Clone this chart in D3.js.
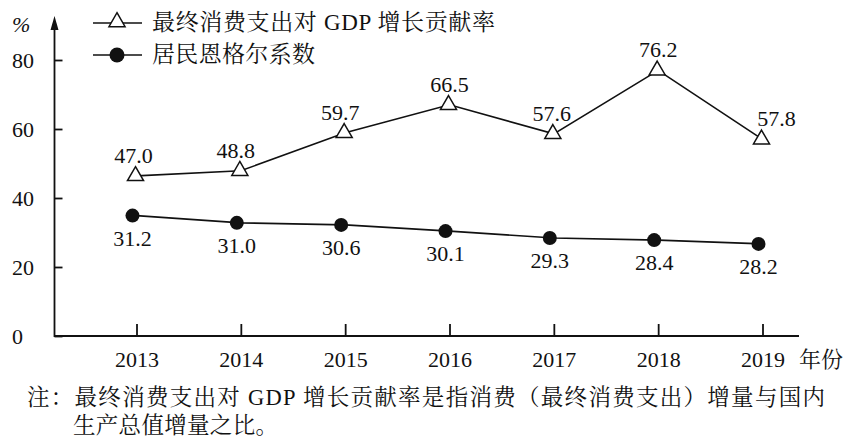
<!DOCTYPE html>
<html>
<head>
<meta charset="utf-8">
<script src="https://cdn.jsdelivr.net/npm/d3@7"></script>
<style>
  html, body { margin: 0; padding: 0; background: #fff; }
  svg { display: block; }
</style>
</head>
<body>
<svg id="chart" width="845" height="437"></svg>
<script>
// ---- data ----
const years = [2013, 2014, 2015, 2016, 2017, 2018, 2019];
// marker positions as drawn in the picture
const gdpContribution = [46.4, 47.9, 58.9, 67.0, 58.6, 77.0, 57.0];
const gdpLabels = ["47.0", "48.8", "59.7", "66.5", "57.6", "76.2", "57.8"];
const engelCoefficient = [34.9, 32.8, 32.2, 30.4, 28.4, 27.8, 26.7];
const engelLabels = ["31.2", "31.0", "30.6", "30.1", "29.3", "28.4", "28.2"];
const yTicks = [0, 20, 40, 60, 80];
const legendNames = ["最终消费支出对 GDP 增长贡献率", "居民恩格尔系数"];
const yUnit = "%";
const xUnit = "年份";
const noteLines = ["注：最终消费支出对 GDP 增长贡献率是指消费（最终消费支出）增量与国内", "生产总值增量之比。"];

// ---- layout ----
const NUMFONT = "Liberation Serif";
const MIXFONT = "Liberation Serif, Noto Serif CJK SC";
const INK = "#111";
const svg = d3.select("#chart");
const axisX0 = 54.5, axisX1 = 799, axisY = 336;

const x = d3.scalePoint().domain(years).range([136.5, 762.5]);
const y = d3.scaleLinear().domain([0, 80]).range([axisY, 60]);

function numText(sel) {
  return sel.attr("font-family", NUMFONT).style("font-family", NUMFONT)
    .attr("font-size", 22).style("font-size", "22px").attr("fill", INK);
}

// y axis with ticks pointing inward
const yAxis = d3.axisLeft(y).tickValues(yTicks).tickSize(-8).tickFormat(d3.format("d"));
const gy = svg.append("g").attr("transform", `translate(${axisX0},0)`).call(yAxis)
  .attr("font-family", NUMFONT).attr("font-size", 22);
gy.select(".domain").remove();
gy.selectAll(".tick line").attr("stroke", INK).attr("stroke-width", 1.8);
numText(gy.selectAll(".tick text"))
  .attr("x", 12 - axisX0).attr("text-anchor", "start").attr("dy", "0.34em");

// x axis with upward ticks
const xAxis = d3.axisBottom(x).tickSize(-12).tickPadding(15);
const gx = svg.append("g").attr("transform", `translate(0,${axisY})`).call(xAxis)
  .attr("font-family", NUMFONT).attr("font-size", 22);
gx.select(".domain").remove();
gx.selectAll(".tick line").attr("stroke", INK).attr("stroke-width", 1.8);
numText(gx.selectAll(".tick text")).attr("dy", "0.71em");

// axis lines
svg.append("line").attr("x1", axisX0).attr("x2", axisX0).attr("y1", 26).attr("y2", axisY + 1)
  .attr("stroke", INK).attr("stroke-width", 1.8);
svg.append("line").attr("x1", axisX0).attr("x2", axisX1).attr("y1", axisY).attr("y2", axisY)
  .attr("stroke", INK).attr("stroke-width", 1.8);
// arrow head
svg.append("path").attr("d", `M${axisX0},16 L${axisX0 - 4},30 L${axisX0 + 4},30 Z`).attr("fill", INK);

// units
numText(svg.append("text").attr("x", 12).attr("y", 32).text(yUnit)).style("font-style", "italic");
svg.append("text").attr("x", 799).attr("y", 367).text(xUnit)
  .attr("font-family", MIXFONT).style("font-family", MIXFONT).style("font-size", "22px").attr("fill", INK);

// lines
const line = d3.line().x((d, i) => x(years[i])).y(d => y(d));
svg.append("path").datum(engelCoefficient).attr("d", line)
  .attr("fill", "none").attr("stroke", INK).attr("stroke-width", 1.6);
svg.append("path").datum(gdpContribution).attr("d", line)
  .attr("fill", "none").attr("stroke", INK).attr("stroke-width", 1.6);

// markers
const tri = d3.symbol().type(d3.symbolTriangle).size(112);
svg.selectAll(".tri").data(gdpContribution).join("path")
  .attr("transform", (d, i) => `translate(${x(years[i]) - 1},${y(d)})`)
  .attr("d", tri).attr("fill", "#fff").attr("stroke", INK).attr("stroke-width", 1.5);
svg.selectAll(".dot").data(engelCoefficient).join("circle")
  .attr("cx", (d, i) => x(years[i]) - 4).attr("cy", d => y(d)).attr("r", 7).attr("fill", INK);

// value labels
const triNudge = [-3, -5, -5, 0, -2, 0, 14];
numText(svg.selectAll(".tl").data(gdpContribution).join("text"))
  .attr("x", (d, i) => x(years[i]) + triNudge[i]).attr("y", d => y(d) - 13)
  .attr("text-anchor", "middle").text((d, i) => gdpLabels[i]);
numText(svg.selectAll(".el").data(engelCoefficient).join("text"))
  .attr("x", (d, i) => x(years[i]) - 4).attr("y", d => y(d) + 30)
  .attr("text-anchor", "middle").text((d, i) => engelLabels[i]);

// legend
const lg = svg.append("g");
lg.append("line").attr("x1", 93).attr("x2", 142).attr("y1", 23).attr("y2", 23).attr("stroke", INK).attr("stroke-width", 1.6);
lg.append("path").attr("transform", "translate(117,22)").attr("d", tri).attr("fill", "#fff").attr("stroke", INK).attr("stroke-width", 1.5);
lg.append("line").attr("x1", 93).attr("x2", 142).attr("y1", 55).attr("y2", 55).attr("stroke", INK).attr("stroke-width", 1.6);
lg.append("circle").attr("cx", 117).attr("cy", 55).attr("r", 7.5).attr("fill", INK);

function mixText(sel, size) {
  return sel.attr("font-family", MIXFONT).style("font-family", MIXFONT)
    .style("font-size", size + "px").attr("fill", INK).attr("lengthAdjust", "spacing");
}
mixText(lg.append("text").attr("x", 152).attr("y", 30).text(legendNames[0]), 23).attr("textLength", 343);
mixText(lg.append("text").attr("x", 152).attr("y", 62).text(legendNames[1]), 23).attr("textLength", 163);

// note
mixText(svg.append("text").attr("x", 27).attr("y", 405).text(noteLines[0]), 22.5).attr("textLength", 798);
mixText(svg.append("text").attr("x", 73).attr("y", 433).text(noteLines[1]), 22.5).attr("textLength", 205);
</script>
</body>
</html>
